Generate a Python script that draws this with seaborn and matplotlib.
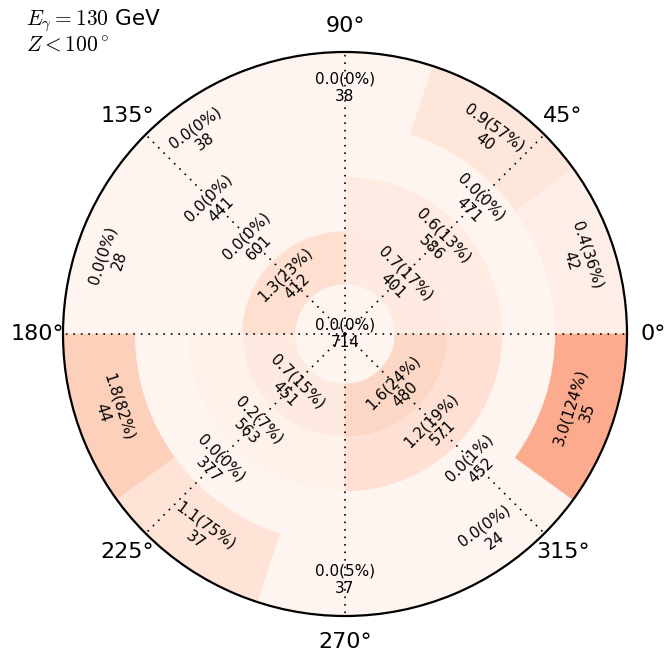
import numpy as np
import matplotlib
matplotlib.use("Agg")
import matplotlib.pyplot as plt
import seaborn as sns

# Excess significance, relative excess (%) and event count per cell,
# listed ring by ring from the centre outwards, sectors counter-clockwise from 0 deg.
center_sig = [0.0]
center_pct = [0]
center_cnt = [714]

ring1_sig = [0.7, 1.3, 0.7, 1.6]
ring1_pct = [17, 23, 15, 24]
ring1_cnt = [401, 412, 451, 480]

ring2_sig = [0.6, 0.0, 0.2, 1.2]
ring2_pct = [13, 0, 7, 19]
ring2_cnt = [586, 601, 563, 571]

ring3_sig = [0.0, 0.0, 0.0, 0.0]
ring3_pct = [0, 0, 0, 1]
ring3_cnt = [471, 441, 377, 452]

ring4_sig = [0.4, 0.9, 0.0, 0.0, 0.0, 1.8, 1.1, 0.0, 0.0, 3.0]
ring4_pct = [36, 57, 0, 0, 0, 82, 75, 5, 0, 124]
ring4_cnt = [42, 40, 38, 38, 28, 44, 37, 37, 24, 35]

theta_ticks = [0, 45, 90, 135, 180, 225, 270, 315]

# radial boundaries of the rings (axis units)
ring_edges = [0.0, 0.177, 0.365, 0.559, 0.746, 1.0]

sns.set_style("white")
plt.rcParams["font.family"] = ["DejaVu Sans"]
plt.rcParams["mathtext.fontset"] = "cm"

cmap = sns.color_palette("Reds", as_cmap=True)
norm = matplotlib.colors.Normalize(vmin=0.0, vmax=10.0)

fig = plt.figure(figsize=(6.67, 6.59), dpi=100)
ax = fig.add_axes([63 / 667, 43 / 659, 564 / 667, 564 / 659], projection="polar")

rings = [
    (center_sig, center_pct, center_cnt),
    (ring1_sig, ring1_pct, ring1_cnt),
    (ring2_sig, ring2_pct, ring2_cnt),
    (ring3_sig, ring3_pct, ring3_cnt),
    (ring4_sig, ring4_pct, ring4_cnt),
]

for i, (sig, pct, cnt) in enumerate(rings):
    inner, outer = ring_edges[i], ring_edges[i + 1]
    k = len(sig)
    width = 2 * np.pi / k
    thetas = np.arange(k) * width + width / 2
    colors = [cmap(norm(s)) for s in sig]
    ax.bar(thetas, outer - inner, width=width, bottom=inner, color=colors,
           edgecolor=colors, linewidth=0.4, align="center", zorder=1)
    rmid = 0.0 if i == 0 else 0.5 * (inner + outer)
    for th, s, p, n in zip(thetas, sig, pct, cnt):
        if i == 0:
            rot = 0.0
        else:
            rot = np.degrees(th) - 90.0
            while rot > 90:
                rot -= 180
            while rot < -90:
                rot += 180
        ax.text(th, rmid, f"{s:.1f}({p:.0f}%)\n{n}", rotation=rot,
                rotation_mode="anchor", ha="center", va="center",
                multialignment="center", fontsize=11, color="black", zorder=4)

ax.set_ylim(0, 1)
ax.set_yticks([])
ax.set_xticks(np.radians(theta_ticks))
ax.set_xticklabels([f"{t}°" for t in theta_ticks])
ax.set_axisbelow(False)
ax.xaxis.grid(True, color="black", linestyle=(0, (1, 3.5)), linewidth=1.2)
ax.tick_params(axis="x", labelsize=16, pad=8, labelcolor="black")
ax.spines["polar"].set_linewidth(1.6)
ax.spines["polar"].set_color("black")

fig.text(26 / 667, 1 - 7 / 659, "$E_\\gamma =$$130$ GeV\n$Z<100^\\circ$",
         ha="left", va="top", fontsize=15.5, linespacing=1.15, color="black")

fig.savefig("out.png", dpi=100)
